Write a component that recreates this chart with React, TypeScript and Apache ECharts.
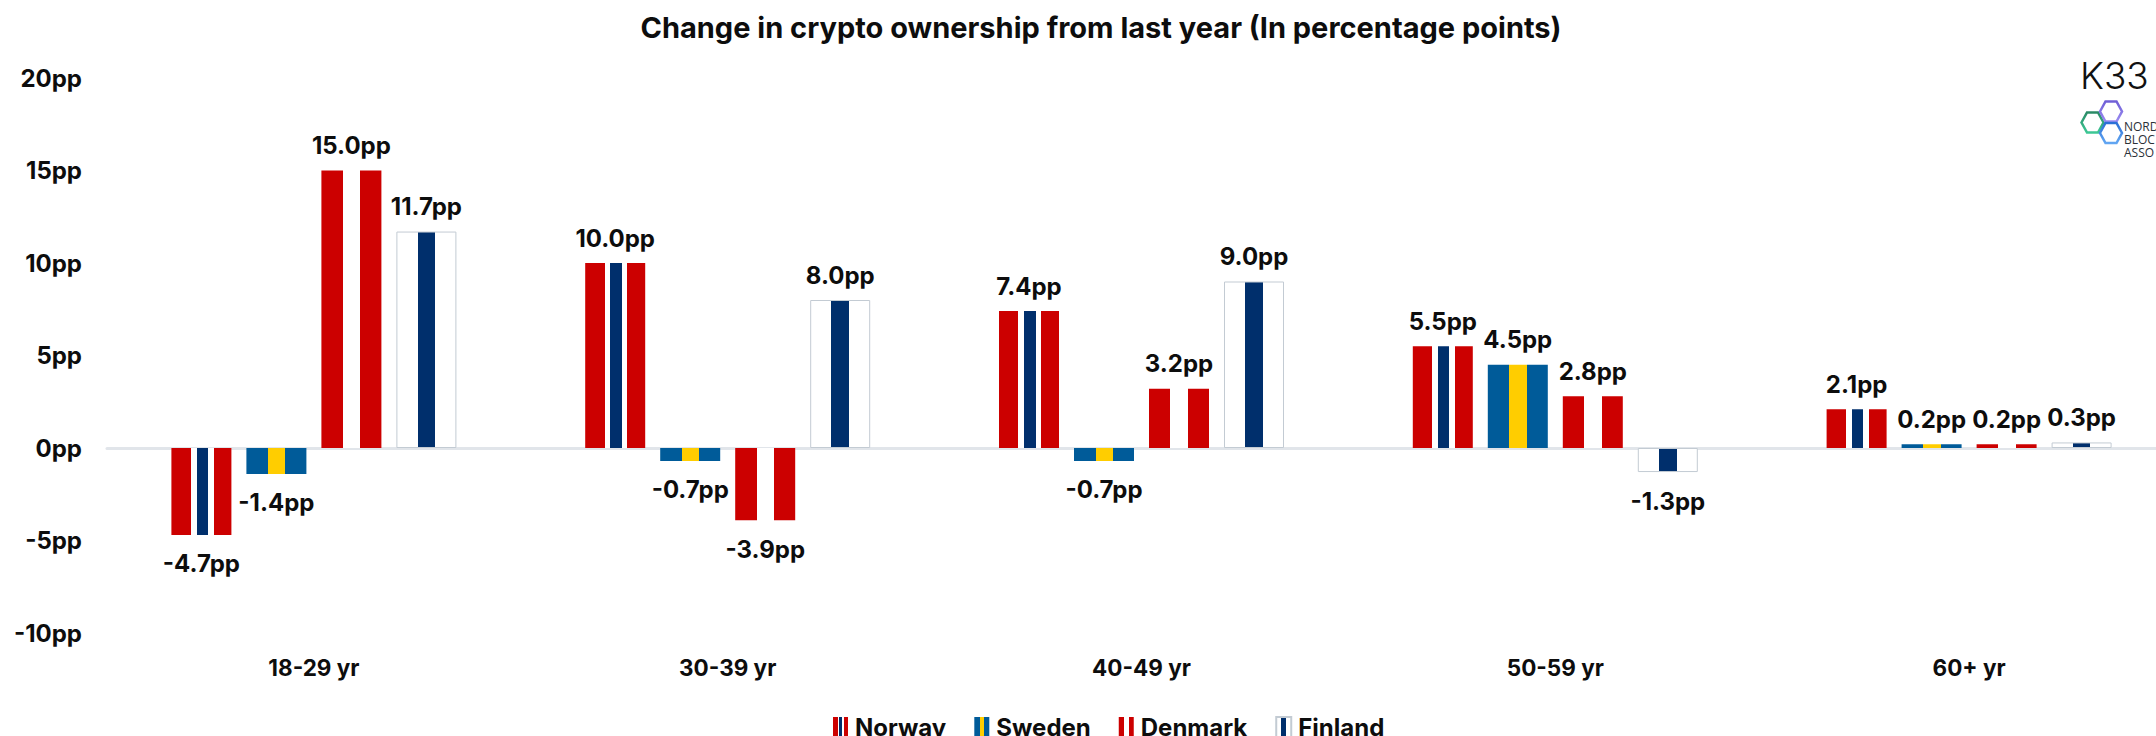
import React, { useEffect, useRef } from "react";
import * as echarts from "echarts";

const categories = ["18-29 yr", "30-39 yr", "40-49 yr", "50-59 yr", "60+ yr"];
const norway = [-4.7, 10.0, 7.4, 5.5, 2.1];
const sweden = [-1.4, -0.7, -0.7, 4.5, 0.2];
const denmark = [15.0, -3.9, 3.2, 2.8, 0.2];
const finland = [11.7, 8.0, 9.0, -1.3, 0.3];

const FONT = "Inter, 'Noto Sans', sans-serif";
const INK = "#0d0d0d";
const RED = "#CC0000";
const NAVY = "#002F6C";
const BLUE = "#005B99";
const YELLOW = "#FFCD00";
const WHITE = "#ffffff";

function stripes(parts: [number, string][]) {
  const stops: { offset: number; color: string }[] = [];
  let start = 0;
  for (const [end, color] of parts) {
    stops.push({ offset: start, color }, { offset: end, color });
    start = end;
  }
  return new echarts.graphic.LinearGradient(0, 0, 1, 0, stops);
}

const fills = {
  Norway: stripes([[0.325, RED], [0.42, WHITE], [0.61, NAVY], [0.704, WHITE], [1, RED]]),
  Sweden: stripes([[0.36, BLUE], [0.65, YELLOW], [1, BLUE]]),
  Denmark: stripes([[0.355, RED], [0.65, WHITE], [1, RED]]),
  Finland: stripes([[0.35, WHITE], [0.65, NAVY], [1, WHITE]]),
};

function hex(cx: number, cy: number, c1: string, c2: string) {
  const rx = 11, ry = 10, dx = 5.5;
  return {
    type: "polygon",
    shape: {
      points: [
        [cx - rx, cy], [cx - dx, cy - ry], [cx + dx, cy - ry],
        [cx + rx, cy], [cx + dx, cy + ry], [cx - dx, cy + ry],
      ],
    },
    style: {
      fill: "none",
      lineWidth: 2.5,
      stroke: new echarts.graphic.LinearGradient(0, 0, 0, 1, [
        { offset: 0, color: c1 },
        { offset: 1, color: c2 },
      ]),
    },
  };
}

function makeSeries(name: keyof typeof fills, data: number[]) {
  const isFinland = name === "Finland";
  return {
    name,
    type: "bar",
    data: data.map((value) => ({ value, label: { distance: value < 0 ? 17 : 13 } })),
    barWidth: 60,
    barGap: "25%",
    itemStyle: {
      color: fills[name],
      borderColor: isFinland ? "#c3cbd3" : "transparent",
      borderWidth: isFinland ? 1 : 0,
    },
    label: {
      show: true,
      position: "outside",
      formatter: (p: any) => `${Number(p.value).toFixed(1)}pp`,
      fontFamily: FONT,
      fontSize: 24,
      fontWeight: 700,
      color: INK,
    },
  };
}

export default function App() {
  const ref = useRef<HTMLDivElement>(null);
  useEffect(() => {
    document.body.style.margin = "0";
    document.body.style.overflow = "hidden";
    const chart = echarts.init(ref.current!, undefined, { renderer: "svg" });
    const logoText = (text: string, y: number) => ({
      type: "text",
      x: 2124,
      y,
      style: { text, fontFamily: "'Open Sans', sans-serif", fontSize: 12, fill: "#2b3138", textVerticalAlign: "middle" },
    });
    chart.setOption({
      animation: false,
      backgroundColor: "#ffffff",
      title: {
        text: "Change in crypto ownership from last year (In percentage points)",
        left: 1096,
        top: 8,
        textAlign: "center",
        textStyle: { fontFamily: FONT, fontSize: 29, fontWeight: 700, color: INK },
      },
      legend: {
        data: ["Norway", "Sweden", "Denmark", "Finland"],
        left: 828,
        top: 710,
        icon: "rect",
        itemWidth: 15,
        itemHeight: 20,
        itemGap: 28,
        textStyle: { fontFamily: FONT, fontSize: 24, fontWeight: 700, color: INK, padding: [0, 0, 0, 2] },
      },
      grid: { left: 107, top: 78, width: 2070, height: 555, containLabel: false },
      xAxis: [
        {
          type: "category",
          data: categories,
          position: "bottom",
          axisLine: { show: false, onZero: false },
          axisTick: { show: false },
          axisLabel: { margin: 23, fontFamily: FONT, fontSize: 22.5, fontWeight: 700, color: INK },
        },
        {
          type: "category",
          data: categories,
          axisLine: { show: true, onZero: true, lineStyle: { color: "#e1e5ea", width: 3 } },
          axisTick: { show: false },
          axisLabel: { show: false },
        },
      ],
      yAxis: {
        type: "value",
        min: -10,
        max: 20,
        interval: 5,
        splitLine: { show: false },
        axisLine: { show: false },
        axisTick: { show: false },
        axisLabel: {
          margin: 25,
          formatter: (v: number) => `${v}pp`,
          fontFamily: FONT,
          fontSize: 24,
          fontWeight: 700,
          color: INK,
        },
      },
      series: [
        makeSeries("Norway", norway),
        makeSeries("Sweden", sweden),
        makeSeries("Denmark", denmark),
        makeSeries("Finland", finland),
      ],
      graphic: [
        {
          type: "text",
          x: 2080,
          y: 75,
          style: { text: "K33", fontFamily: "Inter, sans-serif", fontSize: 37, fontWeight: 300, fill: "#111", textVerticalAlign: "middle" },
        },
        hex(2092.5, 122.5, "#2a8a66", "#3cc794"),
        hex(2111, 111.5, "#6f5fd6", "#9b8cf2"),
        hex(2111, 133, "#2a6fd6", "#62a6f2"),
        logoText("NORD", 126),
        logoText("BLOC", 139),
        logoText("ASSO", 152),
      ],
    });
    return () => chart.dispose();
  }, []);
  return <div ref={ref} style={{ width: 2176, height: 736 }} />;
}
